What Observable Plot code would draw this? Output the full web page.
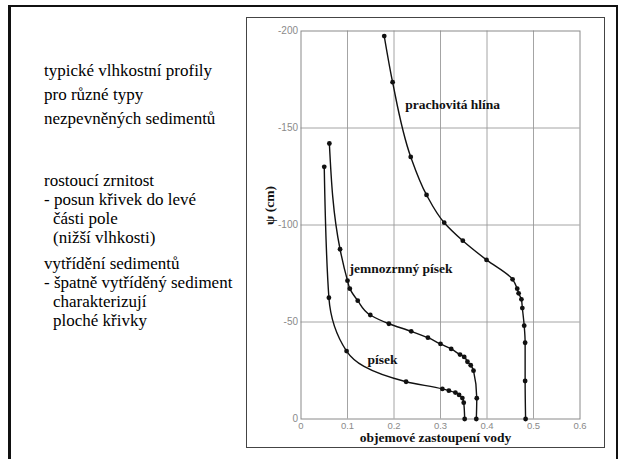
<!DOCTYPE html>
<html><head><meta charset="utf-8">
<script src="https://cdn.jsdelivr.net/npm/d3@7"></script>
<script src="https://cdn.jsdelivr.net/npm/@observablehq/plot@0.6"></script>
<style>
body{margin:0;background:#fff;}
#page{position:relative;width:618px;height:459px;overflow:hidden;font-family:"Liberation Serif","Times New Roman",serif;color:#000;background:#fff;}
#slide{position:absolute;left:8px;top:5px;width:605px;height:470px;border-top:2.5px solid #111;border-left:3px solid #111;border-right:3px solid #111;}
.blk{position:absolute;left:44px;font-size:17px;white-space:nowrap;font-family:"Liberation Serif","Times New Roman",serif;}
.ind{padding-left:9px;}
#b1{top:58.7px;line-height:24px;}
#b2{top:171.2px;line-height:19px;}
#b3{top:253.9px;line-height:19px;}
#box{position:absolute;left:246px;top:17px;width:357px;height:429px;border:1.5px solid #444;}
#box svg{position:absolute;left:0;top:0;overflow:visible;}
#box g[aria-label$="tick label"]{fill:#8a8a8a;}
</style></head>
<body>
<div id="page">
  <div id="slide"></div>
  <div class="blk" id="b1">typické vlhkostní profily<br>pro různé typy<br>nezpevněných sedimentů</div>
  <div class="blk" id="b2">rostoucí zrnitost<br>- posun křivek do levé<br><span class="ind">části pole</span><br><span class="ind">(nižší vlhkosti)</span></div>
  <div class="blk" id="b3">vytřídění sedimentů<br>- špatně vytříděný sediment<br><span class="ind">charakterizují</span><br><span class="ind">ploché křivky</span></div>
  <div id="box"></div>
</div>
<script>
// Series names
const seriesNames = ["písek", "jemnozrnný písek", "prachovitá hlína"];
// písek (sand)
const sandX   = [0.352, 0.350, 0.347, 0.340, 0.332, 0.318, 0.304, 0.226, 0.098, 0.060, 0.050];
const sandPsi = [0, -8.4, -10.8, -12.4, -13.6, -14.6, -15.5, -19.2, -35, -62.5, -130];
// jemnozrnný písek (fine sand)
const fineX   = [0.377, 0.378, 0.371, 0.365, 0.358, 0.351, 0.342, 0.323, 0.300, 0.273, 0.237, 0.189, 0.149, 0.122, 0.105, 0.100, 0.084, 0.061];
const finePsi = [0, -10.7, -24.9, -27.7, -29.5, -32, -33.2, -36.1, -38.7, -41.9, -45.2, -49.1, -53.6, -61, -67.2, -71.3, -87.5, -142];
// prachovitá hlína (silt loam)
const siltX   = [0.483, 0.482, 0.482, 0.480, 0.476, 0.474, 0.468, 0.465, 0.455, 0.399, 0.348, 0.308, 0.270, 0.236, 0.197, 0.179];
const siltPsi = [0, -19.6, -39.3, -48.1, -57.2, -61.7, -64.8, -67.2, -72, -82, -91.9, -101.2, -115.5, -135.1, -173.6, -197.4];
// curve labels (data coordinates)
const labelX   = [0.175, 0.215, 0.326];
const labelPsi = [-30.8, -77.7, -161.9];
// axes
const xTicks = [0, 0.1, 0.2, 0.3, 0.4, 0.5, 0.6];
const yTicks = [0, -50, -100, -150, -200];
const xTitle = "objemové zastoupení vody";
const yTitle = "ψ (cm)";

const xs = [sandX, fineX, siltX];
const ps = [sandPsi, finePsi, siltPsi];
const data = seriesNames.flatMap((s, i) => xs[i].map((x, j) => ({series: s, x, psi: ps[i][j]})));
const labels = seriesNames.map((s, i) => ({name: s, x: labelX[i], psi: labelPsi[i]}));

const serif = "Liberation Serif, Times New Roman, serif";
const chart = Plot.plot({
  width: 357, height: 429,
  marginLeft: 53.5, marginRight: 24.5, marginTop: 12.5, marginBottom: 28.5,
  style: {background: "transparent", fontFamily: "Liberation Sans, Arial, sans-serif"},
  x: {domain: [0, 0.6]},
  y: {domain: [0, -200]},
  marks: [
    Plot.gridX(xTicks.slice(1, -1), {stroke: "#9a9a9a", strokeOpacity: 1, strokeWidth: 0.9}),
    Plot.gridY(yTicks.slice(1, -1), {stroke: "#9a9a9a", strokeOpacity: 1, strokeWidth: 0.9}),
    Plot.frame({stroke: "#8a8a8a", strokeWidth: 1}),
    Plot.axisX({ticks: xTicks, tickSize: 0, tickPadding: 3.5, fontSize: 9.5, label: null, tickFormat: d => String(d)}),
    Plot.axisY({ticks: yTicks, tickSize: 0, tickPadding: 3, fontSize: 10, label: null, tickFormat: d => String(d)}),
    Plot.line(data, {x: "x", y: "psi", z: "series", stroke: "#111", strokeWidth: 1.4, curve: "monotone-y"}),
    Plot.dot(data, {x: "x", y: "psi", r: 2.4, fill: "#111"}),
    Plot.text(labels, {x: "x", y: "psi", text: "name", fontFamily: serif, fontWeight: "bold", fontSize: 13.5, fill: "#111"}),
    Plot.text([xTitle], {frameAnchor: "bottom", dy: 23, dx: -5, fontFamily: serif, fontWeight: "bold", fontSize: 13.5, fill: "#111"}),
    Plot.text([yTitle], {frameAnchor: "left", dx: -31, rotate: -90, fontFamily: serif, fontWeight: "bold", fontSize: 13.5, fill: "#111"})
  ]
});
document.getElementById("box").appendChild(chart);
</script>
</body></html>
